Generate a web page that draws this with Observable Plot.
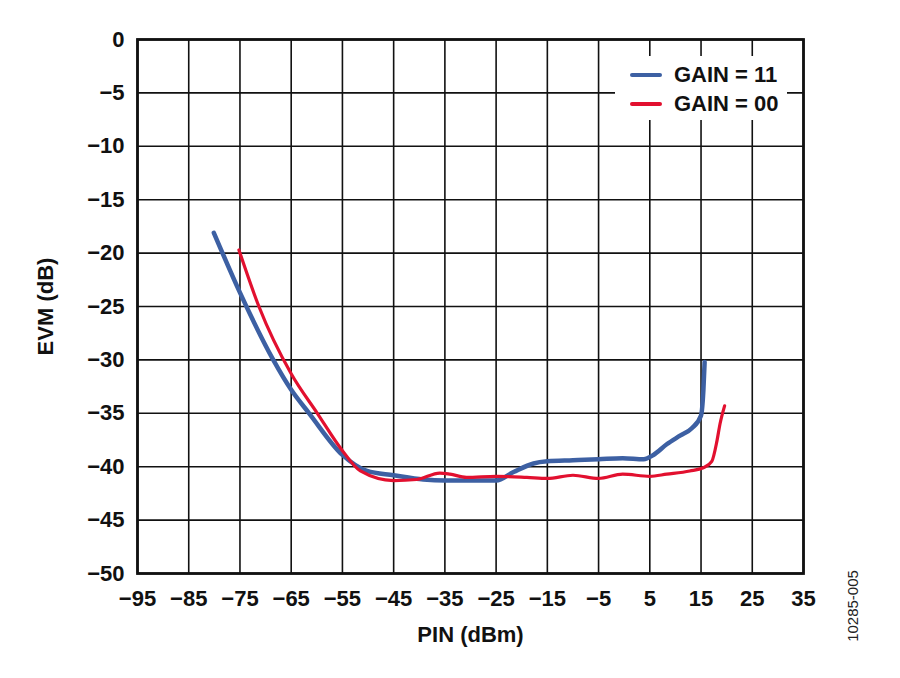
<!DOCTYPE html>
<html>
<head>
<meta charset="utf-8">
<script src="https://cdn.jsdelivr.net/npm/d3@7"></script>
<script src="https://cdn.jsdelivr.net/npm/@observablehq/plot@0.6"></script>
<style>
  html, body { margin: 0; padding: 0; background: #fff; }
  #wrap { position: relative; width: 900px; height: 678px; font-family: "Liberation Sans", Arial, sans-serif; }
  #chart svg g[aria-label="x-axis tick label"] text,
  #chart svg g[aria-label="y-axis tick label"] text { font-size: 22px !important; font-weight: bold !important; }
  #chart svg g[aria-label="x-axis label"] text,
  #chart svg g[aria-label="y-axis label"] text { font-size: 22px !important; font-weight: bold !important; }
  #legend { position: absolute; left: 615px; top: 56px; width: 172px; height: 64px; background: #fff; }
  .item { position: absolute; left: 0; display: flex; align-items: center; font-weight: bold; font-size: 22px; color: #111; }
  .sw { display: inline-block; width: 32px; border-radius: 3px; margin-left: 15px; margin-right: 12px; }
  #code { position: absolute; left: 852px; top: 606px; transform: translate(-50%, -50%) rotate(-90deg); font-size: 15px; color: #222; white-space: nowrap; }
</style>
</head>
<body>
<div id="wrap">
  <div id="chart"></div>
  <div id="legend"></div>
  <div id="code">10285-005</div>
</div>
<script>
const seriesNames = ["GAIN = 11", "GAIN = 00"];
const seriesColors = ["#3d60a3", "#e2102f"];

const gain11X = [-80.1, -75, -68.5, -65, -61.5, -55, -50.2, -45, -39.2, -35, -29.5, -25, -21.6, -17.7, -15, -10, -5, -0.3, 3.8, 5.7, 8.3, 10.9, 13.2, 15, 15.45, 15.7];
const gain11Y = [-18.1, -23.7, -30, -32.8, -35, -38.9, -40.4, -40.8, -41.2, -41.3, -41.3, -41.3, -40.5, -39.7, -39.5, -39.4, -39.3, -39.2, -39.3, -38.9, -37.9, -37.1, -36.4, -35.2, -32.9, -30.2];

const gain00X = [-75.2, -71.3, -65, -59.9, -55, -51.5, -45, -40.5, -36, -34, -30.8, -25, -19, -15, -10, -5, -0.3, 5, 8.3, 12.8, 15.45, 17.1, 18.1, 18.7, 19.6];
const gain00Y = [-19.7, -25, -31.3, -35, -38.5, -40.4, -41.3, -41.2, -40.6, -40.7, -41.0, -40.9, -41.0, -41.1, -40.8, -41.1, -40.7, -40.9, -40.7, -40.4, -40.1, -39.5, -37.6, -36.0, -34.3];

const xTicks = [-95, -85, -75, -65, -55, -45, -35, -25, -15, -5, 5, 15, 25, 35];
const yTicks = [0, -5, -10, -15, -20, -25, -30, -35, -40, -45, -50];

const gain11 = gain11X.map((x, i) => ({x, y: gain11Y[i]}));
const gain00 = gain00X.map((x, i) => ({x, y: gain00Y[i]}));

const chart = Plot.plot({
  width: 900,
  height: 678,
  marginLeft: 137,
  marginRight: 97,
  marginTop: 39,
  marginBottom: 105,
  style: { fontFamily: "'Liberation Sans', Arial, sans-serif", fontSize: "20px", fontWeight: "bold", background: "#fff", color: "#111" },
  x: { domain: [-95, 35] },
  y: { domain: [-50, 0] },
  marks: [
    Plot.gridX(xTicks, { stroke: "#111", strokeOpacity: 1, strokeWidth: 1.6 }),
    Plot.gridY(yTicks, { stroke: "#111", strokeOpacity: 1, strokeWidth: 1.6 }),
    Plot.axisX(xTicks, { tickSize: 0, tickPadding: 17, fill: "#111",
      label: "PIN (dBm)", labelAnchor: "center", labelArrow: "none", labelOffset: 68 }),
    Plot.axisY(yTicks, { tickSize: 0, tickPadding: 13, fill: "#111",
      label: "EVM (dB)", labelAnchor: "center", labelArrow: "none", labelOffset: 100 }),
    Plot.line(gain11, { x: "x", y: "y", stroke: seriesColors[0], strokeWidth: 4.5, curve: "monotone-x" }),
    Plot.line(gain00, { x: "x", y: "y", stroke: seriesColors[1], strokeWidth: 3.2, curve: "monotone-x" }),
    Plot.frame({ stroke: "#111", strokeWidth: 2.8 })
  ]
});
document.getElementById("chart").appendChild(chart);

const legend = document.getElementById("legend");
seriesNames.forEach((name, i) => {
  const item = document.createElement("div");
  item.className = "item";
  item.style.top = (i === 0 ? 6 : 35) + "px";
  item.style.height = "26px";
  const sw = document.createElement("span");
  sw.className = "sw";
  sw.style.background = seriesColors[i];
  sw.style.height = (i === 0 ? 4.5 : 3.5) + "px";
  item.appendChild(sw);
  item.appendChild(document.createTextNode(name));
  legend.appendChild(item);
});
</script>
</body>
</html>
